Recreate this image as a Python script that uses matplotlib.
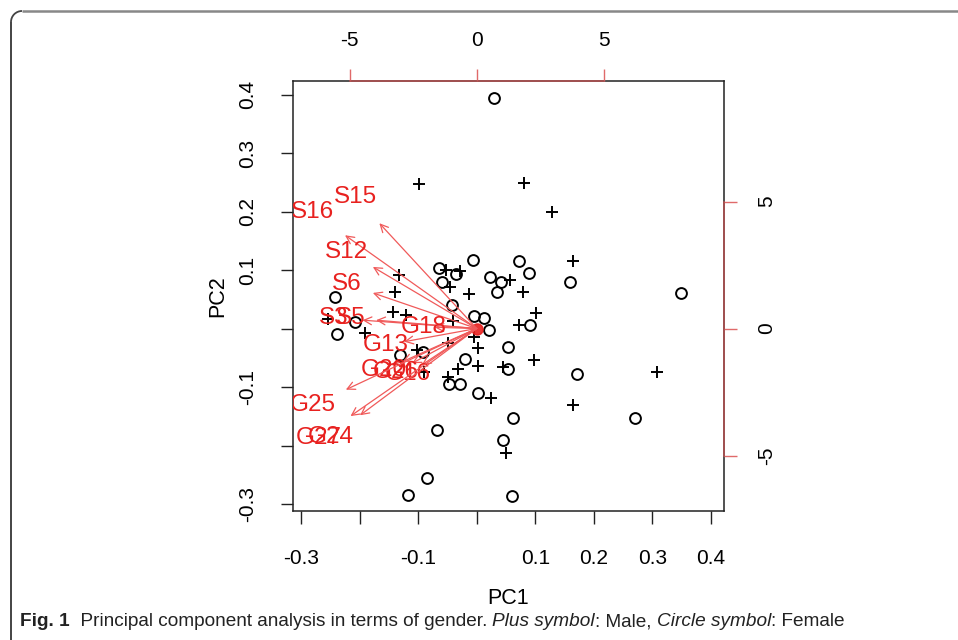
"""
PCA biplot by gender, redrawn from the published figure.
"""
import matplotlib
matplotlib.use('Agg')
import matplotlib.pyplot as plt
from matplotlib.patches import Arc

plt.rcParams['font.family'] = ['Liberation Sans', 'DejaVu Sans']

# Scores (PC1, PC2), primary axes
male_pc1 = [-0.099, 0.081, 0.129, 0.165, -0.052, -0.029, 0.057, -0.133, -0.046,
            -0.013, 0.079, -0.140, 0.101, -0.143, -0.121, -0.254, -0.041, 0.072,
            -0.191, -0.005, 0.002, -0.049, -0.102, 0.098, 0.002, -0.032, 0.045,
            0.308, -0.049, 0.024, 0.165, 0.050, -0.090]
male_pc2 = [0.247, 0.249, 0.199, 0.115, 0.100, 0.098, 0.083, 0.091, 0.071,
            0.059, 0.062, 0.062, 0.026, 0.028, 0.023, 0.016, 0.013, 0.006,
            -0.008, -0.015, -0.033, -0.025, -0.037, -0.054, -0.064, -0.069, -0.066,
            -0.074, -0.083, -0.119, -0.131, -0.213, -0.074]

female_pc1 = [0.030, -0.006, 0.072, 0.089, -0.064, -0.035, 0.023, 0.042, 0.159,
              -0.059, 0.035, 0.349, -0.242, -0.042, -0.005, 0.012, 0.091, 0.021,
              -0.208, -0.239, -0.131, -0.092, -0.020, 0.054, 0.054, 0.171, -0.047,
              -0.029, 0.002, 0.062, 0.271, -0.068, 0.045, 0.060, -0.085, -0.117]
female_pc2 = [0.394, 0.117, 0.115, 0.095, 0.103, 0.093, 0.088, 0.079, 0.079,
              0.079, 0.062, 0.061, 0.054, 0.040, 0.021, 0.018, 0.006, -0.003,
              0.011, -0.009, -0.045, -0.040, -0.052, -0.032, -0.069, -0.078, -0.095,
              -0.095, -0.110, -0.153, -0.153, -0.174, -0.191, -0.286, -0.256, -0.285]

# Variable loadings, secondary axes (labels sit at the loading, arrows stop at 0.8)
var_names = ['S15', 'S16', 'S12', 'S6', 'S3', 'S5', 'G18', 'G13',
             'G20', 'G26', 'G16', 'G25', 'G27', 'G24']
var_pc1 = [-4.79, -6.48, -5.11, -5.11, -5.62, -4.95, -2.07, -3.57,
           -3.65, -3.18, -2.70, -6.44, -6.21, -5.74]
var_pc2 = [5.18, 4.59, 3.03, 1.75, 0.41, 0.41, 0.06, -0.65,
           -1.63, -1.71, -1.79, -3.01, -4.31, -4.27]

pc_ticks = [-0.3, -0.2, -0.1, 0.0, 0.1, 0.2, 0.3, 0.4]
pc_tick_labels = ['-0.3', '', '-0.1', '', '0.1', '0.2', '0.3', '0.4']
var_ticks = [-5, 0, 5]
var_tick_labels = ['-5', '0', '5']

caption_parts = [
    ('Fig. 1', 'bold', 'normal'),
    ('  Principal component analysis in terms of gender. ', 'normal', 'normal'),
    ('Plus symbol', 'normal', 'italic'),
    (': Male, ', 'normal', 'normal'),
    ('Circle symbol', 'normal', 'italic'),
    (': Female', 'normal', 'normal'),
]


def main():
    W, H = 958, 640
    fig = plt.figure(figsize=(W / 100, H / 100), dpi=100)

    # plot box in pixels (left, right, top, bottom)
    bl, br, bt, bb = 293, 724, 81, 511
    rect = [bl / W, (H - bb) / H, (br - bl) / W, (bb - bt) / H]

    red = '#e8211f'
    arrow_red = '#f05a5a'
    tick_red = '#e06a6a'

    # border of the page frame
    frame = fig.add_axes([0, 0, 1, 1], zorder=-5)
    frame.set_xlim(0, W)
    frame.set_ylim(H, 0)
    frame.axis('off')
    r = 11
    frame.plot([11 + r, W], [11, 11], color='#888888', lw=1.8, solid_capstyle='butt')
    frame.plot([11, 11], [11 + r, H], color='#111111', lw=1.1, solid_capstyle='butt')
    frame.add_patch(Arc((11 + r, 11 + r), 2 * r, 2 * r, theta1=180, theta2=270,
                        color='#444444', lw=1.3))

    # primary axes: scores
    ax = fig.add_axes(rect)
    ax.set_xlim((bl - 476.7) / 585, (br - 476.7) / 585)
    ax.set_ylim((328.5 - bb) / 585, (328.5 - bt) / 585)
    ax.plot(male_pc1, male_pc2, '+', color='black', ms=8.5, mew=1.4, linestyle='none')
    ax.plot(female_pc1, female_pc2, 'o', mfc='none', mec='black', ms=7.8, mew=1.4,
            linestyle='none')
    ax.set_xticks(pc_ticks)
    ax.set_xticklabels(pc_tick_labels)
    ax.set_yticks(pc_ticks)
    ax.set_yticklabels(pc_tick_labels, rotation=90, va='center')
    ax.tick_params(axis='both', direction='out', length=9, width=1, labelsize=15,
                   color='#222222')
    ax.tick_params(axis='x', pad=18)
    ax.tick_params(axis='y', pad=17)
    for s in ax.spines.values():
        s.set_color('#222222')
        s.set_linewidth(1.1)
    ax.set_xlabel('PC1', fontsize=15.5, labelpad=15)
    ax.set_ylabel('PC2', fontsize=15.5, labelpad=7)

    # secondary axes: variables
    ax2 = fig.add_axes(rect)
    ax2.patch.set_visible(False)
    ax2.set_xlim((bl - 476.7) / 25.4, (br - 476.7) / 25.4)
    ax2.set_ylim((328.5 - bb) / 25.4, (328.5 - bt) / 25.4)
    ax2.xaxis.tick_top()
    ax2.yaxis.tick_right()
    ax2.set_xticks(var_ticks)
    ax2.set_xticklabels(var_tick_labels)
    ax2.set_yticks(var_ticks)
    ax2.set_yticklabels(var_tick_labels, rotation=90, va='center')
    ax2.tick_params(axis='both', direction='out', length=9, width=1, labelsize=15,
                    color=tick_red)
    ax2.tick_params(axis='x', pad=13)
    ax2.tick_params(axis='y', pad=15)
    ax2.spines['left'].set_visible(False)
    ax2.spines['bottom'].set_visible(False)
    ax2.spines['top'].set_bounds(-5, 5)
    ax2.spines['right'].set_bounds(-5, 5)
    for side in ('top', 'right'):
        ax2.spines[side].set_color('#b85050')
        ax2.spines[side].set_linewidth(1.1)

    for name, u, v in zip(var_names, var_pc1, var_pc2):
        ax2.annotate('', xy=(0.8 * u, 0.8 * v), xytext=(0, 0),
                     arrowprops=dict(arrowstyle='->', color=arrow_red, lw=0.9,
                                     shrinkA=0, shrinkB=0, mutation_scale=14))
        ax2.text(u, v, name, color=red, fontsize=17.5, ha='center', va='center',
                 clip_on=True)
    ax2.plot(0, 0, 'o', color=red, ms=8, alpha=0.9)

    # caption, pieces laid out one after another
    fig.canvas.draw()
    renderer = fig.canvas.get_renderer()
    cap_family = ['Liberation Sans Narrow', 'Liberation Sans', 'DejaVu Sans']
    size = 13.0
    x_start, x_end, y_cap = 20, 843, 622
    texts = []
    for txt, weight, style in caption_parts:
        texts.append(fig.text(0, 0, txt, fontsize=size, fontweight=weight,
                              fontstyle=style, family=cap_family, va='center',
                              ha='left', color='#222222'))
    total = sum(t.get_window_extent(renderer).width for t in texts)
    scale = (x_end - x_start) / total
    x = x_start
    for t in texts:
        t.set_fontsize(size * scale)
    for t in texts:
        t.set_position((x / W, (H - y_cap) / H))
        x += t.get_window_extent(renderer).width

    fig.savefig('out.png', dpi=100)


if __name__ == '__main__':
    main()
